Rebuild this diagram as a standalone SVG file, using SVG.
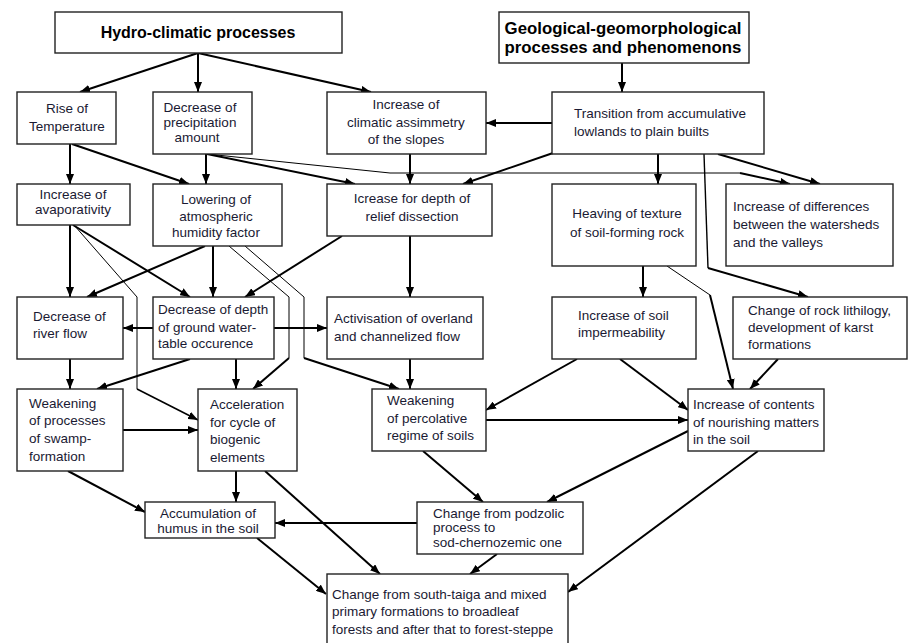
<svg xmlns="http://www.w3.org/2000/svg" width="914" height="643" viewBox="0 0 914 643">
<defs>
<marker id="ah" markerUnits="userSpaceOnUse" markerWidth="10" markerHeight="8" refX="10" refY="4" orient="auto">
<path d="M0,0 L10,4 L0,8 z" fill="#000"/>
</marker>
<style>
.box{fill:#fff;stroke:#222;stroke-width:1.4}
.t{font-family:"Liberation Sans",Arial,sans-serif;font-size:13.5px;fill:#1a1a33}
.c{text-anchor:middle}
.h{font-family:"Liberation Sans",Arial,sans-serif;font-weight:bold;fill:#000;text-anchor:middle}
.k{fill:none;stroke:#000;stroke-width:2}
.n{fill:none;stroke:#000;stroke-width:1}
.a{marker-end:url(#ah)}
</style>
</defs>
<rect width="914" height="643" fill="#fff"/>

<g id="connectors">
<path class="k a" d="M198,53 L80,92"/>
<path class="k a" d="M198,53 L198,92"/>
<path class="k a" d="M198,53 L371,92"/>
<path class="k a" d="M622,63 L622,92"/>
<path class="k a" d="M552,123 L486,123"/>
<path class="k a" d="M70,144 L70,184"/>
<path class="k a" d="M72,144 L189,184"/>
<path class="k a" d="M206,154 L206,184"/>
<path class="k a" d="M207,154 L355,184"/>
<path class="n" d="M207,154 L390,173 L740,173"/>
<path class="k a" d="M740,173 L790,184"/>
<path class="k a" d="M410,154 L410,184"/>
<path class="k a" d="M553,153 L463,184"/>
<path class="k a" d="M658,154 L658,184"/>
<path class="k a" d="M718,154 L820,184"/>
<path class="n" style="stroke-width:1.4" d="M704,154 L708,268"/>
<path class="k a" d="M708,268 L808,297"/>
<path class="k a" d="M643,266 L643,297"/>
<path class="n" d="M667,266 L710,295"/>
<path class="k a" d="M710,295 L733,389"/>
<path class="k a" d="M70,225 L70,297"/>
<path class="k a" d="M73,225 L190,297"/>
<path class="n" d="M74,225 L137,297 L137,389"/>
<path class="k a" style="stroke-width:1.6" d="M137,389 L198,420"/>
<path class="k a" d="M205,246 L87,297"/>
<path class="k a" d="M213,246 L213,297"/>
<path class="k a" d="M342,236 L245,297"/>
<path class="k a" d="M410,236 L410,297"/>
<path class="n" d="M229,246 L289,297 L289,358"/>
<path class="k a" d="M289,358 L253,389"/>
<path class="n" d="M245,246 L304,297 L304,358"/>
<path class="k a" d="M304,358 L399,389"/>
<path class="k a" d="M153,328 L123,328"/>
<path class="k a" d="M274,328 L327,328"/>
<path class="k a" d="M70,359 L70,389"/>
<path class="k a" d="M190,359 L97,389"/>
<path class="k a" d="M236,359 L236,389"/>
<path class="k a" d="M410,359 L410,389"/>
<path class="k a" d="M577,359 L486,410"/>
<path class="k a" d="M620,359 L688,410"/>
<path class="k a" d="M778,359 L750,389"/>
<path class="k a" d="M123,430 L198,430"/>
<path class="k a" d="M486,420 L688,420"/>
<path class="k a" d="M68,471 L145,512"/>
<path class="k a" d="M236,471 L236,502"/>
<path class="k a" d="M265,471 L380,574"/>
<path class="k a" d="M423,451 L483,502"/>
<path class="k a" d="M688,431 L547,502"/>
<path class="k a" d="M758,451 L568,592"/>
<path class="k a" d="M417,523 L275,523"/>
<path class="k a" d="M497,554 L470,574"/>
<path class="k a" d="M257,538 L326,594"/>
</g>

<g id="hydro">
<rect class="box" x="55" y="12" width="287" height="41"/>
<text class="h" x="198" y="38" font-size="16">Hydro-climatic processes</text>
</g>
<g id="geo">
<rect class="box" x="499" y="12" width="250" height="51"/>
<text class="h" x="623" y="34" font-size="16.8">Geological-geomorphological</text>
<text class="h" x="623" y="53" font-size="16.8">processes and phenomenons</text>
</g>
<g id="rise">
<rect class="box" x="17" y="92" width="99" height="52"/>
<text class="t c" x="67" y="113">Rise of</text>
<text class="t c" x="67" y="131">Temperature</text>
</g>
<g id="precip">
<rect class="box" x="153" y="92" width="99" height="62"/>
<text class="t c" x="200" y="112">Decrease of</text>
<text class="t c" x="200" y="127">precipitation</text>
<text class="t c" x="197" y="142">amount</text>
</g>
<g id="asym">
<rect class="box" x="327" y="92" width="159" height="62"/>
<text class="t c" x="406" y="109">Increase of</text>
<text class="t c" x="406" y="127">climatic assimmetry</text>
<text class="t c" x="406" y="144">of the slopes</text>
</g>
<g id="transition">
<rect class="box" x="552" y="92" width="212" height="62"/>
<text class="t" x="574" y="118">Transition from accumulative</text>
<text class="t" x="574" y="136">lowlands to plain builts</text>
</g>
<g id="evap">
<rect class="box" x="17" y="184" width="113" height="41"/>
<text class="t c" x="73" y="199">Increase of</text>
<text class="t c" x="73" y="214">avaporativity</text>
</g>
<g id="humidity">
<rect class="box" x="153" y="184" width="129" height="62"/>
<text class="t c" x="216" y="204">Lowering of</text>
<text class="t c" x="216" y="221">atmospheric</text>
<text class="t c" x="216" y="237">humidity factor</text>
</g>
<g id="dissection">
<rect class="box" x="327" y="184" width="165" height="52"/>
<text class="t c" x="412" y="203">Icrease for depth of</text>
<text class="t c" x="412" y="221">relief dissection</text>
</g>
<g id="heaving">
<rect class="box" x="552" y="184" width="144" height="82"/>
<text class="t c" x="627" y="218">Heaving of texture</text>
<text class="t c" x="627" y="237">of soil-forming rock</text>
</g>
<g id="differences">
<rect class="box" x="726" y="184" width="167" height="82"/>
<text class="t" x="733" y="211">Increase of differences</text>
<text class="t" x="733" y="229">between the watersheds</text>
<text class="t" x="733" y="247">and the valleys</text>
</g>
<g id="river">
<rect class="box" x="17" y="297" width="106" height="62"/>
<text class="t" x="33" y="321">Decrease of</text>
<text class="t" x="33" y="338">river flow</text>
</g>
<g id="groundwater">
<rect class="box" x="153" y="297" width="121" height="62"/>
<text class="t" x="158" y="314">Decrease of depth</text>
<text class="t" x="158" y="332">of ground water-</text>
<text class="t" x="158" y="348">table occurence</text>
</g>
<g id="activisation">
<rect class="box" x="327" y="297" width="156" height="62"/>
<text class="t" x="334" y="323">Activisation of overland</text>
<text class="t" x="334" y="341">and channelized flow</text>
</g>
<g id="impermeability">
<rect class="box" x="552" y="297" width="144" height="62"/>
<text class="t" x="578" y="320">Increase of soil</text>
<text class="t" x="578" y="337">impermeability</text>
</g>
<g id="lithology">
<rect class="box" x="733" y="297" width="174" height="62"/>
<text class="t" x="748" y="315">Change of rock lithilogy,</text>
<text class="t" x="748" y="332">development of karst</text>
<text class="t" x="748" y="349">formations</text>
</g>
<g id="swamp">
<rect class="box" x="17" y="389" width="106" height="82"/>
<text class="t" x="29" y="408">Weakening</text>
<text class="t" x="29" y="425">of processes</text>
<text class="t" x="29" y="443">of swamp-</text>
<text class="t" x="29" y="461">formation</text>
</g>
<g id="acceleration">
<rect class="box" x="198" y="389" width="99" height="82"/>
<text class="t" x="210" y="409">Acceleration</text>
<text class="t" x="210" y="427">for cycle of</text>
<text class="t" x="210" y="444">biogenic</text>
<text class="t" x="210" y="462">elements</text>
</g>
<g id="percolative">
<rect class="box" x="372" y="389" width="114" height="62"/>
<text class="t" x="387" y="405">Weakening</text>
<text class="t" x="387" y="423">of percolative</text>
<text class="t" x="387" y="440">regime of soils</text>
</g>
<g id="contents">
<rect class="box" x="688" y="389" width="136" height="62"/>
<text class="t" x="693" y="409">Increase of contents</text>
<text class="t" x="693" y="427">of nourishing matters</text>
<text class="t" x="693" y="444">in the soil</text>
</g>
<g id="humus">
<rect class="box" x="145" y="502" width="130" height="36"/>
<text class="t c" x="208" y="518">Accumulation of</text>
<text class="t c" x="208" y="533">humus in the soil</text>
</g>
<g id="podzolic">
<rect class="box" x="417" y="502" width="166" height="52"/>
<text class="t" x="433" y="518">Change from podzolic</text>
<text class="t" x="433" y="532">process to</text>
<text class="t" x="433" y="547">sod-chernozemic one</text>
</g>
<g id="forest">
<rect class="box" x="327" y="574" width="241" height="76"/>
<text class="t" x="332" y="599">Change from south-taiga and mixed</text>
<text class="t" x="332" y="616">primary formations to broadleaf</text>
<text class="t" x="332" y="634">forests and after that to forest-steppe</text>
</g>
</svg>
